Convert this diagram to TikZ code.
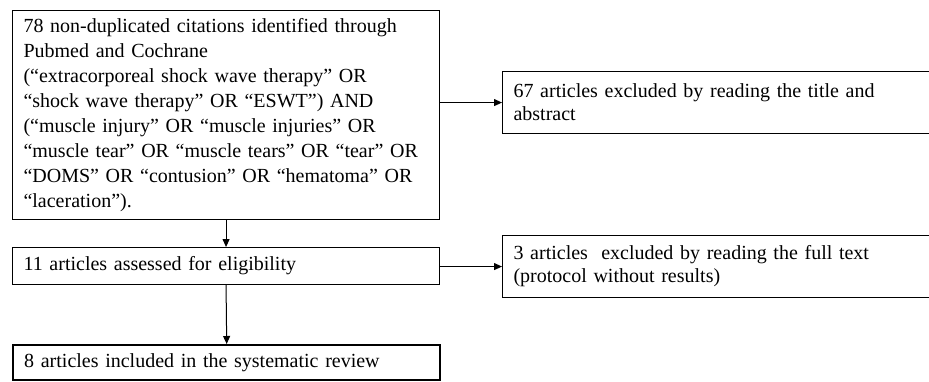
\documentclass[tikz,border=0pt]{standalone}
\usepackage{fontspec}
\setmainfont{Liberation Serif}
\usetikzlibrary{arrows.meta}
\begin{document}
\begin{tikzpicture}[x=1pt,y=-1pt,
  box/.style={draw=black, line width=1.1pt, inner xsep=11pt, inner ysep=0pt,
    align=left, anchor=north west, font=\fontsize{20}{23}\selectfont},
  arr/.style={line width=1pt, -{Triangle[length=8pt,width=7pt]}}]
\useasboundingbox (0,0) rectangle (929,381);
\node[box, text width=405pt, minimum height=209pt, font=\fontsize{20}{25}\selectfont] (b1) at (12,10)
  {78 non-duplicated citations identified through\\
   Pubmed and Cochrane\\
   (“extracorporeal shock wave therapy” OR\\
   “shock wave therapy” OR “ESWT”) AND\\
   (“muscle injury” OR “muscle injuries” OR\\
   “muscle tear” OR “muscle tears” OR “tear” OR\\
   “DOMS” OR “contusion” OR “hematoma” OR\\
   “laceration”).};
\node[box, text width=405pt, minimum height=37pt] (b2) at (12,247)
  {11 articles assessed for eligibility};
\node[box, text width=405pt, minimum height=35pt, line width=2.4pt] (b3) at (12,344)
  {8 articles included in the systematic review};
\node[box, text width=408pt, minimum height=62pt] (b4) at (502,71)
  {67 articles excluded by reading the title and\\ abstract};
\node[box, text width=408pt, minimum height=62pt] (b5) at (502,235)
  {3 articles\ \ excluded by reading the full text\\ (protocol without results)};
\draw[arr] (b4.west -| b1.east) -- (b4.west);
\draw[arr] (b5.west -| b2.east) -- (b5.west);
\draw[arr] (b1.south) -- (b2.north);
\draw[arr] (b2.south) -- (b3.north);
\end{tikzpicture}
\end{document}
